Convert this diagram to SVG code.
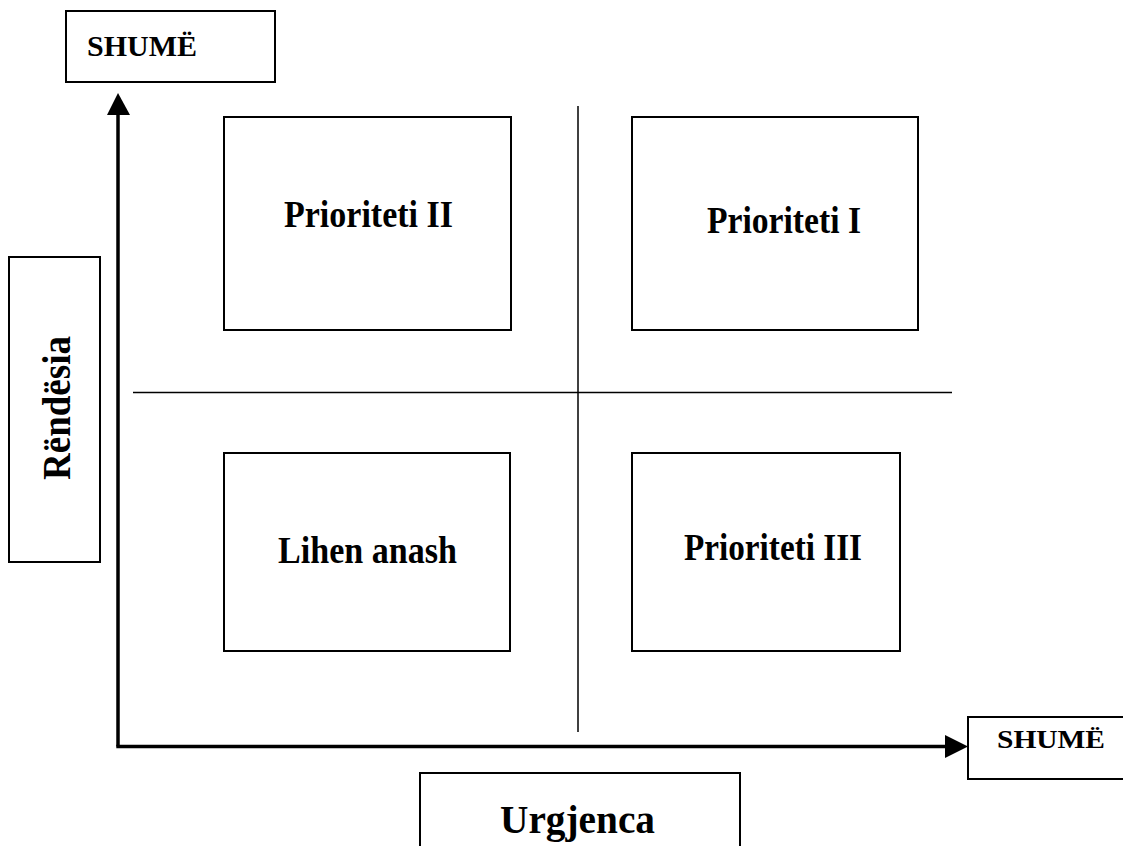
<svg xmlns="http://www.w3.org/2000/svg" width="1123" height="846" viewBox="0 0 1123 846">
<style>
.box{fill:#fff;stroke:#000;stroke-width:2}
.t{font-family:"Liberation Serif","Times New Roman",serif;font-weight:bold;fill:#000}
.q{font-size:38px;text-anchor:middle}
.div{stroke:#000;stroke-width:1.5;fill:none}
.axis{stroke:#000;stroke-width:3.5;fill:none}
</style>
<rect width="1123" height="846" fill="#fff"/>
<g id="connectors">
<line class="div" x1="578" y1="106" x2="578" y2="732"/>
<line class="div" x1="133" y1="392.5" x2="952" y2="392.5"/>
<path class="axis" d="M118,746.5 L118,113"/>
<path class="axis" d="M116.3,746.5 L946,746.5"/>
<polygon points="118,93 107,115 130,115" fill="#000"/>
<polygon points="968,746.5 945,735 945,758" fill="#000"/>
</g>
<g id="top-label">
<rect class="box" x="66" y="11" width="209" height="71"/>
<text class="t" x="87" y="56" font-size="29" textLength="110" lengthAdjust="spacingAndGlyphs">SHUMË</text>
</g>
<g id="right-label">
<rect class="box" x="968" y="717" width="160" height="62"/>
<text class="t" x="997" y="748" font-size="26" textLength="108" lengthAdjust="spacingAndGlyphs">SHUMË</text>
</g>
<g id="rendesia">
<rect class="box" x="9" y="257" width="91" height="305"/>
<text class="t" transform="translate(70,408) rotate(-90)" text-anchor="middle" font-size="39" textLength="144" lengthAdjust="spacingAndGlyphs">Rëndësia</text>
</g>
<g id="urgjenca">
<rect class="box" x="420" y="773" width="320" height="80"/>
<text class="t" x="577.5" y="833" text-anchor="middle" font-size="39" textLength="155" lengthAdjust="spacingAndGlyphs">Urgjenca</text>
</g>
<g id="prioriteti-2">
<rect class="box" x="224" y="117" width="287" height="213"/>
<text class="t q" x="368.5" y="227" textLength="169" lengthAdjust="spacingAndGlyphs">Prioriteti II</text>
</g>
<g id="prioriteti-1">
<rect class="box" x="632" y="117" width="286" height="213"/>
<text class="t q" x="784" y="233" textLength="154" lengthAdjust="spacingAndGlyphs">Prioriteti I</text>
</g>
<g id="lihen-anash">
<rect class="box" x="224" y="453" width="286" height="198"/>
<text class="t q" x="367.5" y="563" textLength="179" lengthAdjust="spacingAndGlyphs">Lihen anash</text>
</g>
<g id="prioriteti-3">
<rect class="box" x="632" y="453" width="268" height="198"/>
<text class="t q" x="773" y="560" textLength="178" lengthAdjust="spacingAndGlyphs">Prioriteti III</text>
</g>
</svg>
